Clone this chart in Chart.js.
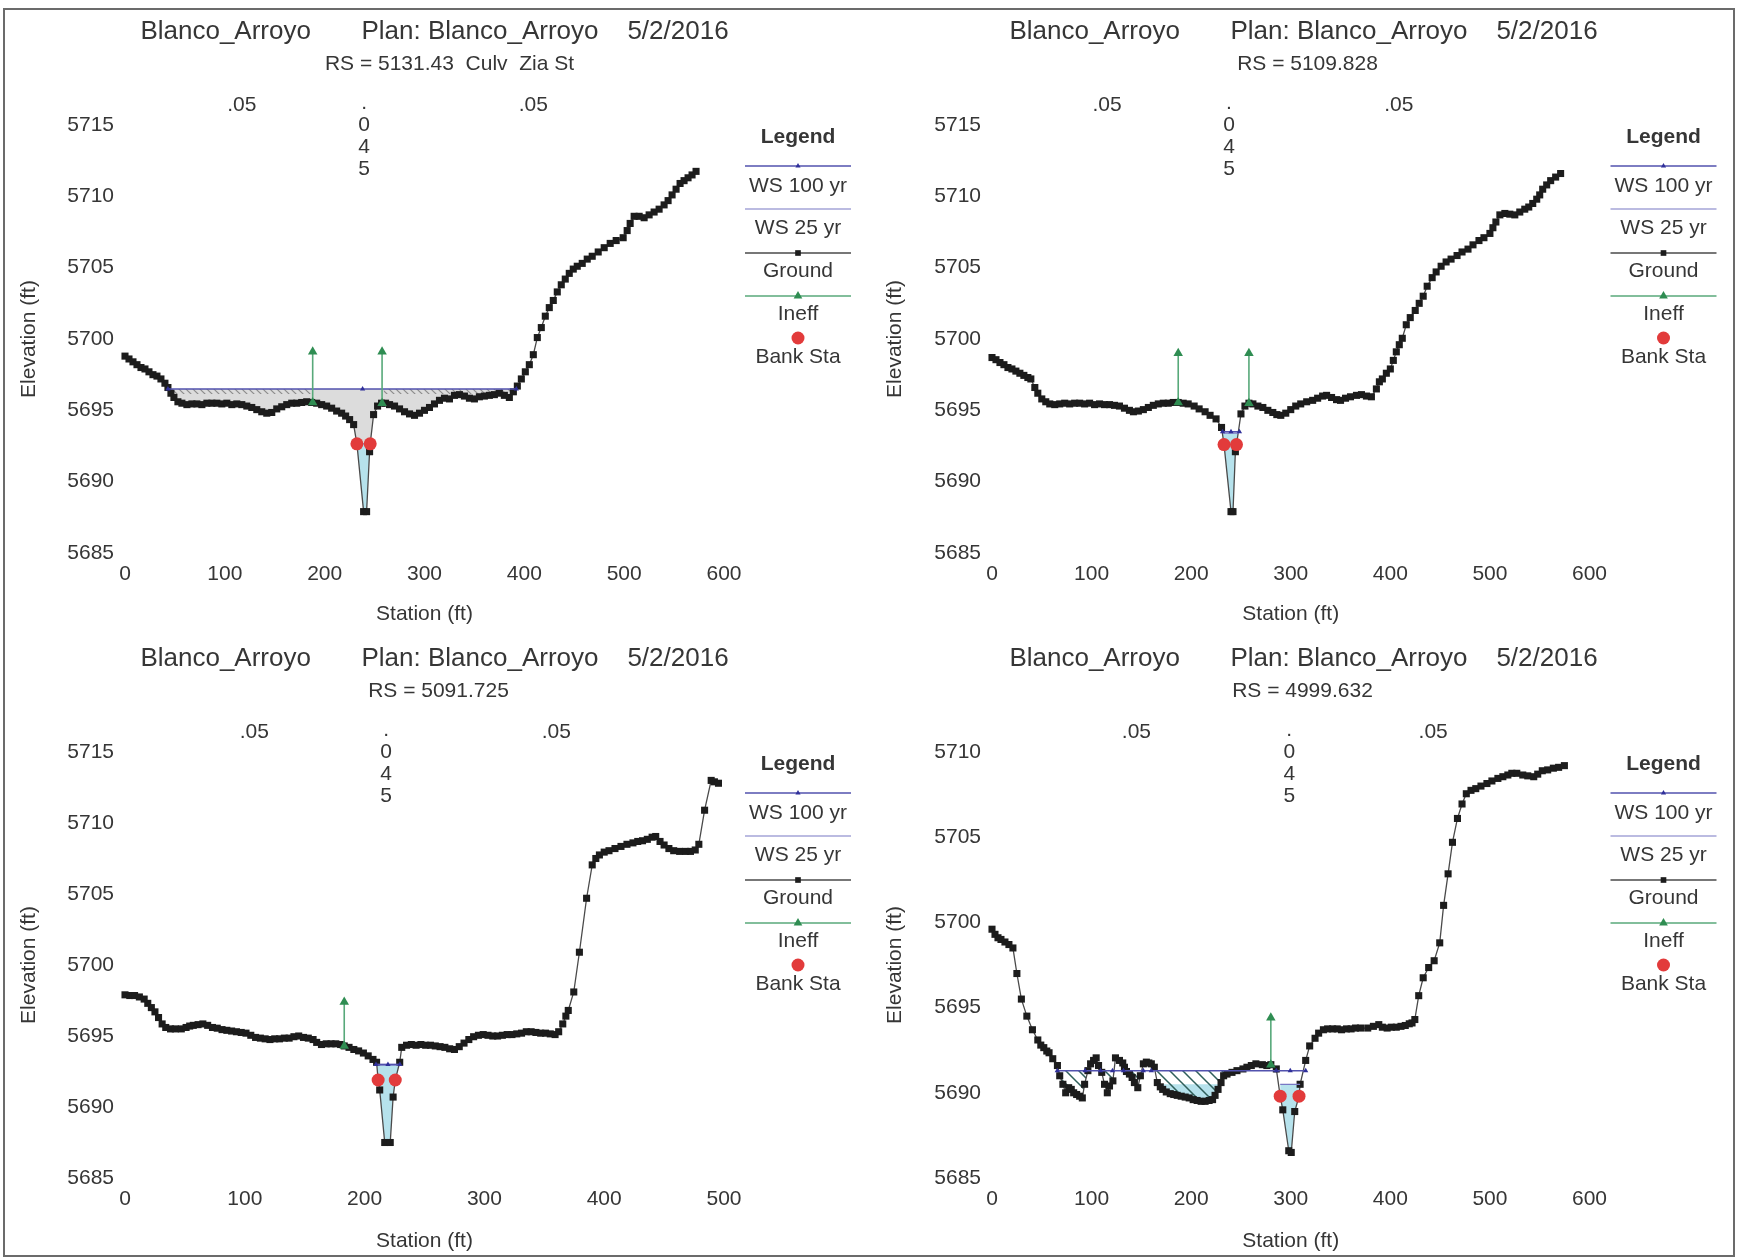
<!DOCTYPE html>
<html>
<head>
<meta charset="utf-8">
<title>Blanco_Arroyo cross sections</title>
<script src="https://cdn.jsdelivr.net/npm/chart.js@4.4.1/dist/chart.umd.min.js"></script>
<style>
  html, body { margin: 0; padding: 0; background: #fff; }
  body { width: 1738px; height: 1260px; position: relative; overflow: hidden; }
  .frame { position: absolute; left: 3px; top: 8px; width: 1732px; height: 1249px; border: 2px solid #6b6b6b; box-sizing: border-box; }
  canvas { position: absolute; }
</style>
</head>
<body>
<div class="frame"></div>
<canvas id="xs1" width="869" height="627" style="left:0;top:0"></canvas>
<canvas id="xs2" width="869" height="627" style="left:869px;top:0"></canvas>
<canvas id="xs3" width="869" height="627" style="left:0;top:627px"></canvas>
<canvas id="xs4" width="869" height="627" style="left:869px;top:627px"></canvas>
<script>
/* ============================================
   Blanco_Arroyo — HEC-RAS cross sections (4 panels)
   station (ft) vs elevation (ft)
   ============================================ */

// ---- Text ----
const titleText = 'Blanco_Arroyo       Plan: Blanco_Arroyo    5/2/2016';
const rsText = ['RS = 5131.43  Culv  Zia St', 'RS = 5109.828', 'RS = 5091.725', 'RS = 4999.632'];
const legendLabels = ['WS 100 yr', 'WS 25 yr', 'Ground', 'Ineff', 'Bank Sta'];
const nValueLabels = ['.05', '.045', '.05'];

// ---- Ticks ----
const xTicks600 = [0, 100, 200, 300, 400, 500, 600];
const xTicks500 = [0, 100, 200, 300, 400, 500];
const yTicks5715 = [5685, 5690, 5695, 5700, 5705, 5710, 5715];
const yTicks5710 = [5685, 5690, 5695, 5700, 5705, 5710];

// ---- RS 5131.43 ----
const ground1 = [[0,5698.8],[4,5698.6],[8,5698.4],[12,5698.2],[16,5698.0],[20,5697.9],[24,5697.7],[28,5697.5],[32,5697.4],[36,5697.2],[40,5696.9],[43,5696.6],[46,5696.2],[49,5695.9],[53,5695.6],[57,5695.5],[62,5695.4],[67,5695.45],[72,5695.45],[77,5695.4],[82,5695.5],[87,5695.5],[92,5695.5],[97,5695.45],[102,5695.5],[107,5695.4],[112,5695.45],[117,5695.4],[122,5695.3],[127,5695.2],[132,5695.05],[137,5694.9],[142,5694.8],[147,5694.85],[152,5695.1],[157,5695.25],[162,5695.4],[167,5695.5],[172,5695.5],[177,5695.55],[182,5695.6],[187,5695.55],[192,5695.5],[197,5695.4],[202,5695.3],[207,5695.15],[212,5694.95],[217,5694.8],[221,5694.6],[225,5694.35],[229,5694.0],[232.3,5692.65],[239,5687.9],[242,5687.9],[245,5692.1],[245.6,5692.65],[249,5694.7],[253,5695.3],[257,5695.5],[261,5695.5],[265,5695.4],[270,5695.3],[275,5695.1],[280,5694.9],[285,5694.75],[290,5694.65],[295,5694.8],[300,5695.0],[305,5695.2],[310,5695.45],[315,5695.7],[320,5695.85],[325,5695.8],[330,5696.05],[335,5696.1],[340,5696.0],[345,5695.85],[350,5695.8],[355,5695.95],[360,5696.0],[365,5696.05],[370,5696.1],[375,5696.2],[380,5696.05],[385,5695.9],[389,5696.3],[393,5696.7],[397,5697.2],[401,5697.7],[405,5698.2],[409,5698.9],[413,5700.1],[417,5700.8],[421,5701.6],[425,5702.2],[429,5702.7],[433,5703.3],[437,5703.8],[441,5704.2],[445,5704.6],[449,5704.9],[453,5705.1],[458,5705.3],[463,5705.6],[468,5705.8],[474,5706.1],[480,5706.4],[486,5706.7],[492,5706.9],[499,5707.1],[503,5707.6],[506,5708.1],[510,5708.6],[515,5708.6],[520,5708.5],[525,5708.7],[530,5708.9],[535,5709.1],[540,5709.4],[544,5709.7],[548,5710.1],[552,5710.5],[556,5710.9],[560,5711.1],[564,5711.3],[568,5711.5],[572,5711.75]];
const ws100_1 = [[43,5696.5],[238,5696.5],[392,5696.5]];
const ws25_1 = [[232.3,5692.65],[245.6,5692.65]];
const water25_1 = ws25_1;
const ineff1 = [[188,5695.55],[188,5699.1],[223,null],[257.5,5695.5],[257.5,5699.1]];
const bank1 = [[232.3,5692.65],[245.6,5692.65]];
const ineffArea1 = [[43,5696.5],[187,5696.5],[222,null],[259,5696.5],[392,5696.5]];
const ineffFloor1 = 5696.15;
const nSta1 = [117, 239.5, 409];

// ---- RS 5109.828 ----
const ground2 = [[0,5698.7],[4,5698.55],[8,5698.35],[12,5698.2],[16,5698.0],[20,5697.9],[24,5697.75],[28,5697.6],[32,5697.45],[36,5697.3],[39,5697.2],[43,5696.6],[46,5696.2],[50,5695.8],[54,5695.6],[58,5695.45],[63,5695.4],[68,5695.45],[73,5695.5],[78,5695.45],[83,5695.5],[88,5695.5],[93,5695.45],[98,5695.5],[103,5695.4],[108,5695.45],[113,5695.4],[118,5695.4],[123,5695.35],[128,5695.3],[133,5695.15],[138,5695.0],[142,5694.9],[147,5694.95],[152,5695.05],[157,5695.2],[162,5695.35],[167,5695.45],[172,5695.5],[177,5695.5],[182,5695.55],[187,5695.55],[192,5695.5],[197,5695.45],[203,5695.3],[208,5695.1],[214,5694.9],[219,5694.65],[225,5694.4],[230.5,5693.8],[233,5692.6],[240,5687.9],[242,5687.9],[244.4,5692.1],[245.5,5692.6],[250,5694.75],[254,5695.3],[258,5695.5],[262,5695.45],[267,5695.3],[272,5695.2],[277,5695.0],[282,5694.85],[286,5694.7],[290,5694.65],[295,5694.8],[300,5695.05],[305,5695.3],[310,5695.45],[316,5695.6],[322,5695.7],[327,5695.85],[332,5696.0],[336,5696.05],[341,5695.9],[346,5695.75],[350,5695.7],[355,5695.85],[360,5695.95],[366,5696.05],[371,5696.1],[376,5696.0],[381,5695.95],[386,5696.5],[389,5697.0],[392,5697.2],[396,5697.6],[400,5697.9],[403,5698.5],[406,5699.1],[409,5699.6],[412,5700.05],[416,5701.0],[420,5701.5],[425,5702.0],[429,5702.5],[433,5703.0],[437,5703.7],[442,5704.3],[446,5704.7],[451,5705.1],[456,5705.4],[461,5705.6],[467,5705.85],[472,5706.1],[478,5706.3],[483,5706.6],[489,5706.9],[494,5707.1],[500,5707.4],[503,5707.8],[506,5708.2],[510,5708.7],[515,5708.8],[520,5708.75],[525,5708.7],[530,5708.9],[535,5709.1],[539,5709.25],[543,5709.5],[547,5709.8],[550,5710.1],[553,5710.5],[557,5710.8],[561,5711.1],[566,5711.35],[571,5711.6]];
const ws100_2 = [[231.5,5693.5],[240,5693.5],[248.5,5693.5]];
const ws25_2 = [[232,5693.4],[248,5693.4]];
const water25_2 = ws25_2;
const ineff2 = [[187,5695.55],[187,5699.0],[223,null],[258,5695.5],[258,5699.0]];
const bank2 = [[233,5692.6],[245.5,5692.6]];
const ineffArea2 = [];
const nSta2 = [115.5, 238, 408.5];

// ---- RS 5091.725 ----
const ground3 = [[0,5697.9],[4,5697.85],[8,5697.85],[12,5697.75],[16,5697.6],[19,5697.3],[22,5697.0],[25,5696.7],[28,5696.3],[31,5695.85],[34,5695.6],[38,5695.5],[42,5695.5],[47,5695.5],[51,5695.6],[54,5695.7],[57,5695.75],[61,5695.8],[65,5695.85],[69,5695.75],[73,5695.6],[77,5695.55],[81,5695.45],[85,5695.4],[89,5695.35],[93,5695.3],[97,5695.25],[101,5695.2],[105,5695.05],[109,5694.9],[113,5694.85],[117,5694.8],[121,5694.75],[125,5694.8],[129,5694.8],[133,5694.85],[137,5694.85],[141,5694.95],[145,5695.0],[149,5694.9],[153,5694.85],[157,5694.75],[160,5694.55],[164,5694.4],[168,5694.45],[172,5694.45],[176,5694.45],[180,5694.4],[183,5694.3],[187,5694.2],[191,5694.05],[195,5693.95],[199,5693.8],[203,5693.6],[207,5693.35],[210,5693.15],[211.3,5691.9],[212.6,5691.2],[216.8,5687.5],[221.4,5687.5],[223.8,5690.7],[225.6,5691.9],[229.3,5693.15],[231,5694.2],[235,5694.35],[239,5694.4],[243,5694.35],[247,5694.4],[251,5694.35],[255,5694.35],[259,5694.3],[263,5694.25],[267,5694.2],[271,5694.1],[275,5694.05],[279,5694.25],[283,5694.5],[287,5694.75],[291,5694.95],[295,5695.05],[299,5695.1],[303,5695.05],[307,5695.0],[311,5695.0],[315,5695.05],[319,5695.1],[323,5695.1],[327,5695.15],[331,5695.2],[335,5695.3],[339,5695.3],[343,5695.25],[347,5695.2],[351,5695.2],[355,5695.15],[359,5695.1],[362,5695.3],[365.4,5695.85],[368,5696.4],[370,5696.8],[374.6,5698.1],[379.3,5700.9],[385.3,5704.7],[390,5707.05],[393,5707.5],[396,5707.75],[400,5707.95],[404,5708.05],[409,5708.2],[414,5708.35],[419,5708.5],[424,5708.6],[428,5708.7],[432,5708.75],[436,5708.85],[440,5709.0],[443,5709.05],[446.6,5708.7],[450,5708.45],[454,5708.2],[458,5708.05],[463,5708.0],[468,5708.0],[472,5708.0],[476,5708.1],[479,5708.5],[483.8,5710.9],[489.3,5713.0],[492,5712.9],[495.4,5712.8]];
const ws100_3 = [[209.5,5693.0],[219.5,5693.0],[229.5,5693.0]];
const ws25_3 = [[210,5692.95],[229,5692.95]];
const water25_3 = ws25_3;
const ineff3 = [[183,5694.3],[183,5697.4]];
const bank3 = [[211.3,5691.9],[225.6,5691.9]];
const ineffArea3 = [];
const nSta3 = [108, 218, 360];

// ---- RS 4999.632 ----
const ground4 = [[0,5699.6],[3,5699.3],[6,5699.1],[9,5699.0],[13,5698.85],[17,5698.7],[21,5698.5],[25,5697.0],[29.5,5695.5],[35,5694.5],[40.6,5693.7],[46,5693.1],[49,5692.8],[52,5692.65],[55,5692.45],[57.3,5692.35],[61,5692.0],[65.7,5691.6],[68,5691.0],[71.2,5690.5],[74,5690.0],[77,5690.3],[79.6,5690.2],[82,5690.0],[85,5689.9],[88,5689.8],[90.7,5689.7],[93,5690.5],[96.3,5691.3],[99,5691.7],[102,5691.9],[104.6,5692.05],[107,5691.6],[110.2,5691.2],[113,5690.5],[115.8,5690.0],[118,5690.4],[121.4,5690.7],[124,5692.05],[128,5691.9],[131.3,5691.75],[133,5691.5],[135,5691.25],[138,5691.1],[140.7,5690.9],[143,5690.6],[146.4,5690.3],[149,5691.0],[152,5691.7],[155,5691.8],[157.5,5691.75],[160,5691.7],[163,5691.5],[166,5690.6],[169,5690.35],[171.4,5690.2],[175,5690.05],[179,5689.95],[182.5,5689.9],[186,5689.85],[190,5689.8],[194,5689.75],[198,5689.7],[202,5689.6],[206,5689.55],[210,5689.5],[214,5689.5],[218,5689.55],[221.5,5689.6],[224,5689.85],[227,5690.2],[230,5690.6],[232.6,5691.0],[236,5691.1],[241,5691.2],[246,5691.3],[252,5691.4],[256,5691.5],[260.4,5691.6],[265,5691.7],[271.5,5691.65],[276,5691.6],[280,5691.65],[285.5,5691.4],[289.4,5689.8],[292,5689.0],[298,5686.6],[300.5,5686.5],[304,5688.9],[308.3,5689.8],[309.4,5690.5],[315,5691.9],[319,5692.75],[324.4,5693.2],[328,5693.5],[332.8,5693.7],[337,5693.75],[342,5693.75],[346.7,5693.75],[351,5693.7],[356,5693.75],[360.6,5693.75],[365,5693.8],[370,5693.8],[377.3,5693.8],[383,5693.9],[388.4,5694.0],[392,5693.85],[396.8,5693.8],[401,5693.85],[406,5693.85],[410.7,5693.9],[415,5693.95],[419,5694.05],[421.8,5694.1],[424.6,5694.3],[428.5,5695.7],[433,5696.75],[438.5,5697.35],[444,5697.75],[449.6,5698.8],[453.5,5701.0],[458,5702.85],[462.4,5704.7],[467.4,5706.1],[472,5706.95],[476.3,5707.55],[481,5707.75],[485.8,5707.85],[491,5708.0],[497,5708.15],[502,5708.3],[508,5708.45],[513,5708.55],[518,5708.65],[522,5708.75],[527,5708.75],[533,5708.65],[538,5708.6],[544,5708.55],[548,5708.7],[552.6,5708.9],[558,5708.95],[563.7,5709.05],[569,5709.1],[574.8,5709.2]];
const ws100_4 = [[65.5,5691.3],[93.5,5691.3],[109,5691.3],[121,5691.3],[132,5691.3],[152,5691.3],[160,5691.3],[285.5,5691.3],[299.5,5691.3],[315,5691.3]];
const ws25_4 = [[289.4,5690.5],[309.4,5690.5]];
const water25_4 = [[166,5690.5],[229,5690.5],[260,null],[289.4,5690.5],[309.4,5690.5]];
const ineff4 = [[280,5691.65],[280,5694.4]];
const bank4 = [[289.4,5689.8],[308.3,5689.8]];
const ineffArea4 = [[65.5,5691.3],[237,5691.3]];
const nSta4 = [145, 298.5, 443];

// ---- Style ----
const FONT = '"Liberation Sans", Arial, Helvetica, sans-serif';
const TXT = '#363636';
const SMALL = 21;
const GROUND = 4; // dataset index of the ground line (fill target)

function pts(arr) {
  return arr.map(p => ({ x: p[0], y: p[1] }));
}

// diagonal "\" hatch for ineffective flow areas
function hatchPattern(color, gap, width) {
  const c = document.createElement('canvas');
  c.width = c.height = gap;
  const g = c.getContext('2d');
  g.strokeStyle = color;
  g.lineWidth = width;
  g.beginPath();
  g.moveTo(0, 0); g.lineTo(gap, gap);
  g.moveTo(-gap / 2, gap / 2); g.lineTo(gap / 2, gap * 1.5);
  g.moveTo(gap / 2, -gap / 2); g.lineTo(gap * 1.5, gap / 2);
  g.stroke();
  return g.createPattern(c, 'repeat');
}

const panels = [
  { id: 'xs1', rs: rsText[0], ground: ground1, ws100: ws100_1, ws25: ws25_1, water25: water25_1, ineff: ineff1, bank: bank1,
    area: ineffArea1, areaTarget: { value: ineffFloor1 }, areaColor: hatchPattern('#8c8c8c', 7, 1.2),
    ws100Fill: '#dcdcdc', nSta: nSta1, xTicks: xTicks600, yTicks: yTicks5715,
    yAxisW: 125, padRight: 145, xAxisH: 74, yTitlePad: 17, rsShift: 15 },
  { id: 'xs2', rs: rsText[1], ground: ground2, ws100: ws100_2, ws25: ws25_2, water25: water25_2, ineff: ineff2, bank: bank2,
    area: ineffArea2, areaTarget: GROUND, areaColor: 'transparent',
    ws100Fill: null, nSta: nSta2, xTicks: xTicks600, yTicks: yTicks5715,
    yAxisW: 123, padRight: 148.5, xAxisH: 74, yTitlePad: 14, rsShift: 4 },
  { id: 'xs3', rs: rsText[2], ground: ground3, ws100: ws100_3, ws25: ws25_3, water25: water25_3, ineff: ineff3, bank: bank3,
    area: ineffArea3, areaTarget: GROUND, areaColor: 'transparent',
    ws100Fill: null, nSta: nSta3, xTicks: xTicks500, yTicks: yTicks5715,
    yAxisW: 125, padRight: 145, xAxisH: 76, yTitlePad: 17, rsShift: 4 },
  { id: 'xs4', rs: rsText[3], ground: ground4, ws100: ws100_4, ws25: ws25_4, water25: water25_4, ineff: ineff4, bank: bank4,
    area: ineffArea4, areaTarget: GROUND, areaColor: hatchPattern('#2f5f5a', 13, 1.5),
    ws100Fill: null, nSta: nSta4, xTicks: xTicks600, yTicks: yTicks5710,
    yAxisW: 123, padRight: 148.5, xAxisH: 76, yTitlePad: 14, rsShift: -1 }
];

// ---- Plugins ----
function drawMarker(ctx, style, r, color, x, y) {
  ctx.fillStyle = color;
  Chart.helpers.drawPoint(ctx, { pointStyle: style, radius: r, rotation: 0, borderWidth: 0 }, x, y);
}

// plot heading, centred on the whole panel (not on the plot area)
const headingPlugin = {
  id: 'heading',
  afterDraw(chart) {
    const { ctx } = chart;
    const o = chart.options.plugins.heading;
    ctx.save();
    ctx.textAlign = 'center';
    ctx.textBaseline = 'middle';
    ctx.fillStyle = TXT;
    ctx.font = '26px ' + FONT;
    ctx.fillText(titleText, chart.width / 2, 32);
    ctx.font = SMALL + 'px ' + FONT;
    ctx.fillText(o.rs, chart.width / 2 + o.shift, 64);
    ctx.restore();
  }
};

const legendPlugin = {
  id: 'hecLegend',
  afterDraw(chart) {
    const { ctx, chartArea } = chart;
    const cx = chartArea.right + 74;
    const t = chartArea.top;
    const lineY = [41, 84, 128, 171, 213];
    const textY = [61, 103, 146, 189, 232];
    ctx.save();
    ctx.textAlign = 'center';
    ctx.textBaseline = 'middle';
    ctx.fillStyle = TXT;
    ctx.font = 'bold 21px ' + FONT;
    ctx.fillText('Legend', cx, t + 12);
    legendLabels.forEach((lab, i) => {
      const ds = chart.data.datasets.find(d => d.label === lab);
      const y = t + lineY[i];
      if (ds.showLine !== false) {
        ctx.strokeStyle = ds.borderColor;
        ctx.lineWidth = ds.borderWidth;
        ctx.beginPath();
        ctx.moveTo(cx - 53, y);
        ctx.lineTo(cx + 53, y);
        ctx.stroke();
      }
      if (ds.pointRadius > 0) {
        drawMarker(ctx, ds.pointStyle, ds.legendRadius || ds.pointRadius, ds.pointBackgroundColor, cx, y);
      }
      ctx.fillStyle = TXT;
      ctx.font = SMALL + 'px ' + FONT;
      ctx.fillText(lab, cx, t + textY[i]);
    });
    ctx.restore();
  }
};

const nValuePlugin = {
  id: 'nValues',
  afterDraw(chart) {
    const { ctx, chartArea } = chart;
    const xs = chart.scales.x;
    const t = chartArea.top;
    const sta = chart.options.plugins.nValues.stations;
    ctx.save();
    ctx.textAlign = 'center';
    ctx.textBaseline = 'middle';
    ctx.fillStyle = TXT;
    ctx.font = SMALL + 'px ' + FONT;
    nValueLabels.forEach((lab, i) => {
      const x = xs.getPixelForValue(sta[i]);
      if (i === 1) {
        // narrow channel: value written downwards
        ctx.fillText('.', x, t - 22);
        lab.slice(1).split('').forEach((ch, k) => ctx.fillText(ch, x, t + k * 22));
      } else {
        ctx.fillText(lab, x, t - 20);
      }
    });
    ctx.restore();
  }
};

// ---- Build ----
function buildDatasets(p) {
  return [
    { label: 'Bank Sta', data: pts(p.bank), showLine: false, pointStyle: 'circle', pointRadius: 6.5,
      pointBackgroundColor: '#e23b3b', pointBorderWidth: 0, clip: false },
    { label: 'Ineff', data: pts(p.ineff), borderColor: '#58a97a', borderWidth: 1.6, pointStyle: 'triangle',
      pointRadius: 5.5, legendRadius: 5, pointBackgroundColor: '#2f8d52', pointBorderWidth: 0, spanGaps: false, clip: false },
    { label: 'WS 100 yr', data: pts(p.ws100), borderColor: '#5252ae', borderWidth: 1.5, pointStyle: 'triangle',
      pointRadius: 3, pointBackgroundColor: '#30309a', pointBorderWidth: 0, clip: false },
    { label: 'WS 25 yr', data: pts(p.ws25), borderColor: '#7878c4', borderWidth: 1.2, pointRadius: 0, spanGaps: false },
    { label: 'Ground', data: pts(p.ground), borderColor: '#4a4a4a', borderWidth: 1.3, pointStyle: 'rect',
      pointRadius: 5, legendRadius: 4, pointBackgroundColor: '#1c1c1c', pointBorderWidth: 0, clip: false },
    { label: 'ineff area', data: pts(p.area), showLine: false, pointRadius: 0, spanGaps: false,
      fill: { target: p.areaTarget, above: p.areaColor, below: 'transparent' } },
    { label: 'ws25 fill', data: pts(p.water25), showLine: false, pointRadius: 0, spanGaps: false,
      fill: { target: GROUND, above: '#b6e2ec', below: 'transparent' } },
    { label: 'ws100 fill', data: pts(p.ws100), showLine: false, pointRadius: 0,
      fill: p.ws100Fill ? { target: GROUND, above: p.ws100Fill, below: 'transparent' } : false }
  ];
}

function makeChart(p) {
  const smallFont = { family: FONT, size: SMALL };
  return new Chart(document.getElementById(p.id), {
    type: 'line',
    data: { datasets: buildDatasets(p) },
    options: {
      responsive: false,
      animation: false,
      devicePixelRatio: 1,
      events: [],
      elements: { line: { tension: 0 } },
      layout: { padding: { left: 0, right: p.padRight, top: 125, bottom: 0 } },
      plugins: {
        legend: { display: false },
        tooltip: { enabled: false },
        heading: { rs: p.rs, shift: p.rsShift },
        nValues: { stations: p.nSta }
      },
      scales: {
        x: {
          type: 'linear', min: 0, max: p.xTicks[p.xTicks.length - 1],
          afterBuildTicks: s => { s.ticks = p.xTicks.map(v => ({ value: v })); },
          afterFit: s => { s.height = p.xAxisH; },
          grid: { display: false, drawTicks: false }, border: { display: false },
          ticks: { color: TXT, font: smallFont, padding: 9, maxRotation: 0, autoSkip: false, callback: v => String(v) },
          title: { display: true, text: 'Station (ft)', color: TXT, font: smallFont, padding: { top: 0, bottom: 0 } }
        },
        y: {
          type: 'linear', min: p.yTicks[0], max: p.yTicks[p.yTicks.length - 1],
          afterBuildTicks: s => { s.ticks = p.yTicks.map(v => ({ value: v })); },
          afterFit: s => { s.width = p.yAxisW; },
          grid: { display: false, drawTicks: false }, border: { display: false },
          ticks: { color: TXT, font: smallFont, padding: 11, autoSkip: false, callback: v => String(v) },
          title: { display: true, text: 'Elevation (ft)', color: TXT, font: smallFont, padding: { top: p.yTitlePad, bottom: 0 } }
        }
      }
    },
    plugins: [headingPlugin, legendPlugin, nValuePlugin]
  });
}

panels.forEach(makeChart);
</script>
</body>
</html>
